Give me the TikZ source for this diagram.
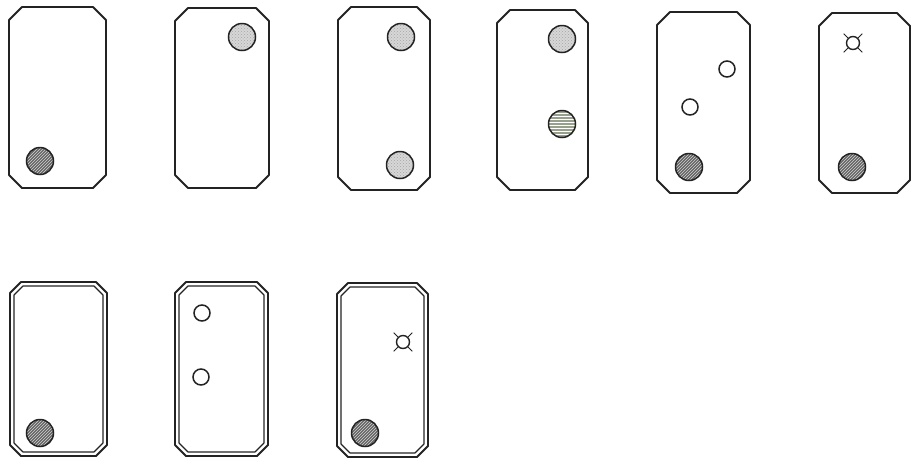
\documentclass[tikz,border=0pt]{standalone}
\usetikzlibrary{patterns}
\definecolor{inkGray}{RGB}{35,35,35}
\definecolor{darkFill}{RGB}{100,100,100}
\definecolor{lightFill}{RGB}{215,215,215}
\definecolor{stripeFill}{RGB}{150,160,140}
% chamfered outline: x1, y1, x2, y2, chamfer
\newcommand{\cardpath}[5]{(#1+#5,#2) -- (#3-#5,#2) -- (#3,#2+#5) -- (#3,#4-#5) -- (#3-#5,#4)
  -- (#1+#5,#4) -- (#1,#4-#5) -- (#1,#2+#5) -- cycle}
\tikzset{
  card/.style={draw=inkGray, line width=1.9pt, line join=round},
  innercard/.style={draw=inkGray, line width=1.1pt, line join=round},
  ball/.style={circle, draw=inkGray, line width=1.5pt, inner sep=0pt, minimum size=27pt},
  darkball/.style={ball, preaction={fill=darkFill}, pattern=north east lines, pattern color=gray!35},
  dotball/.style={ball, preaction={fill=lightFill}, pattern=crosshatch dots, pattern color=gray!70},
  stripeball/.style={ball, preaction={fill=stripeFill}, pattern=horizontal lines, pattern color=white},
  ring/.style={circle, draw=inkGray, line width=1.5pt, inner sep=0pt, minimum size=16pt},
  lamp/.style={circle, draw=inkGray, line width=1.4pt, inner sep=0pt, minimum size=13pt},
  spark/.style={draw=inkGray, line width=0.9pt}
}
\begin{document}
\begin{tikzpicture}[x=1pt,y=-1pt]
    \useasboundingbox (0,0) rectangle (921,459);

    % Top row of cards
    \draw[card] \cardpath{9}{7}{106}{188}{13};
    \draw[card] \cardpath{175}{8}{269}{188}{13};
    \draw[card] \cardpath{338}{7}{430}{190}{13};
    \draw[card] \cardpath{497}{10}{588}{190}{13};
    \draw[card] \cardpath{657}{12}{750}{193}{13};
    \draw[card] \cardpath{819}{13}{910}{193}{13};

    % Balls on the top row
    \node[darkball] (b1) at (40,161) {};
    \node[dotball] (b2) at (242,37) {};
    \node[dotball] (b3a) at (401,37) {};
    \node[dotball] (b3b) at (400,165) {};
    \node[dotball] (b4a) at (562,39) {};
    \node[stripeball] (b4b) at (562,124) {};
    \node[ring] (r5a) at (727,69) {};
    \node[ring] (r5b) at (690,107) {};
    \node[darkball] (b5) at (689,167) {};
    \node[lamp] (l6) at (853,43) {};
    \node[darkball] (b6) at (852,167) {};

    % Bottom row, double outline
    \draw[card] \cardpath{10}{282}{107}{456}{11};
    \draw[innercard] \cardpath{14}{286}{103}{452}{9};
    \draw[card] \cardpath{175}{282}{268}{456}{11};
    \draw[innercard] \cardpath{179}{286}{264}{452}{9};
    \draw[card] \cardpath{337}{283}{428}{457}{11};
    \draw[innercard] \cardpath{341}{287}{424}{453}{9};

    \node[darkball] (b7) at (40,433) {};
    \node[ring] (r8a) at (202,313) {};
    \node[ring] (r8b) at (201,377) {};
    \node[lamp] (l9) at (403,342) {};
    \node[darkball] (b9) at (365,433) {};

    % Sparks round the lamps
    \foreach \l in {l6,l9}
      \foreach \a in {45,135,225,315}
        \draw[spark] (\l.\a) -- ++(\a:6pt);
\end{tikzpicture}
\end{document}
